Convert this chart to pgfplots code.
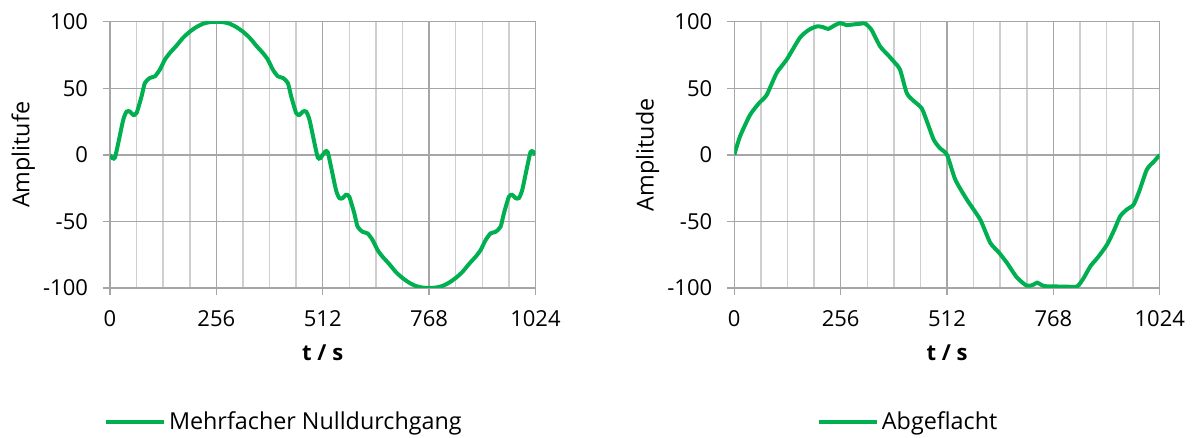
\documentclass[border=0pt]{standalone}
\usepackage{fontspec}
\setmainfont{Open Sans}
\usepackage{pgfplots}
\pgfplotsset{compat=1.18}
\definecolor{curve}{HTML}{00B050}
\definecolor{majg}{HTML}{A6A6A6}
\definecolor{ming}{HTML}{CFCFCF}
\pgfplotsset{
  myaxis/.style={
    scale only axis,
    width=319.1pt, height=199.7pt,
    xmin=0, xmax=1024, ymin=-100, ymax=100,
    xtick={0,256,512,768,1024},
    ytick={-100,-50,0,50,100},
    minor x tick num=3,
    grid=both,
    major grid style={majg, line width=1.1pt},
    minor grid style={ming, line width=1.1pt},
    axis line style={majg, line width=1.1pt},
    tick style={majg, line width=1.1pt},
    major tick length=5.5pt,
    minor tick length=0pt,
    tick align=outside,
    xtick pos=bottom, ytick pos=left,
    /pgf/number format/assume math mode=true,
    /pgf/number format/1000 sep={},
    tick label style={font=\fontsize{16.5}{19}\selectfont, black},
    xticklabel style={yshift=-8pt},
    yticklabel style={xshift=-7.5pt},
    label style={font=\fontsize{17.5}{20}\selectfont},
    xlabel={\textbf{t / s}},
    x label style={at={(axis description cs:0.5,-0.244)}, anchor=center, font=\fontsize{16.5}{19}\selectfont},
    y label style={at={(axis description cs:-0.204,0.5)}, anchor=center},
    legend style={draw=none, fill=none, font=\fontsize{17.5}{20}\selectfont,
      at={(axis description cs:0.409,-0.503)}, anchor=center},
    legend image code/.code={\draw[#1] (0pt,0pt) -- (44pt,0pt);},
  }
}
\begin{document}
\begin{tikzpicture}
\path[use as bounding box] (0,0) rectangle (896.25pt,328.5pt);
\begin{axis}[myaxis, at={(82.5pt,112.5pt)}, anchor=south west, ylabel={Amplitufe}]
\addplot[curve, line width=3pt, smooth, tension=0.4] coordinates {
(0,0) (6,-2.5) (12,-2) (20,9) (32,26.5) (40,32.5) (48,32.5) (56,30) (64,31.5)
(76,44) (84,54) (96,57.8) (108,59) (120,64) (132,71.5) (144,76.5) (160,82)
(176,88) (192,92.5) (208,96) (224,98.5) (240,99.7) (256,100)
(272,99.7) (288,98.5) (304,96) (320,92.5) (336,88) (352,82) (368,76.5)
(380,71.5) (392,64) (404,59) (416,57.8) (428,54) (436,44) (448,31.5)
(456,30) (464,32.5) (472,32.5) (480,26.5) (492,9) (500,-2) (506,-2.5)
(512,0) (518,2.5) (524,2) (532,-9) (544,-26.5) (552,-32.5) (560,-32.5)
(568,-30) (576,-31.5) (588,-44) (596,-54) (608,-57.8) (620,-59) (632,-64)
(644,-71.5) (656,-76.5) (672,-82) (688,-88) (704,-92.5) (720,-96)
(736,-98.5) (752,-99.7) (768,-100) (784,-99.7) (800,-98.5) (816,-96)
(832,-92.5) (848,-88) (864,-82) (880,-76.5) (892,-71.5) (904,-64)
(916,-59) (928,-57.8) (940,-54) (948,-44) (960,-31.5) (968,-30)
(976,-32.5) (984,-32.5) (992,-26.5) (1004,-9) (1012,2) (1018,2.5) (1024,0)
};
\addlegendentry{Mehrfacher Nulldurchgang}
\end{axis}
\begin{axis}[myaxis, at={(550.7pt,112.5pt)}, anchor=south west, ylabel={Amplitude}]
\addplot[curve, line width=3pt, smooth, tension=0.4] coordinates {
(0,0) (14,14) (38,30) (60,39) (78,45) (102,61.5) (126,71.5) (158,88)
(180,94) (199,96.5) (213,96) (226,94.6) (240,97) (255,99) (270,97.5)
(287,98) (303,98.5) (315,98.6) (330,94) (351,81.5) (370,75) (387,69)
(399,64) (415,46.5) (430,41) (451,35) (465,24) (480,11.4) (495,5)
(512,0) (532,-18.6) (560,-33.7) (592,-48.7) (616,-66) (636,-73)
(656,-81) (680,-92) (704,-98.3) (720,-97.5) (729,-96) (745,-98.5)
(769,-98.8) (800,-99) (825,-98.8) (840,-93) (857,-83.7) (875,-77)
(897,-67.5) (915,-56) (929,-46) (945,-41) (961,-37.4) (975,-27)
(993,-11) (1010,-5) (1024,0)
};
\addlegendentry{Abgeflacht}
\end{axis}
\end{tikzpicture}
\end{document}
